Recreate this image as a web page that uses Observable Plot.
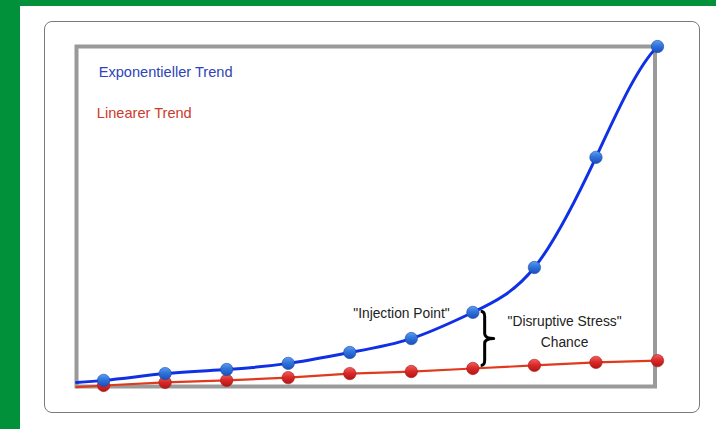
<!DOCTYPE html>
<html><head><meta charset="utf-8">
<script src="https://cdn.jsdelivr.net/npm/d3@7"></script>
<script src="https://cdn.jsdelivr.net/npm/@observablehq/plot@0.6"></script>
<style>
html,body{margin:0;padding:0;background:#fff;}
#wrap{position:relative;width:716px;height:429px;background:#00913a;overflow:hidden;}
#white{position:absolute;left:20px;top:6px;width:696px;height:423px;background:#fff;}
#panel{position:absolute;left:44px;top:21px;width:654px;height:390px;border:1.6px solid #7a7a7a;border-radius:8px;background:#fff;}
#chart{position:absolute;left:0;top:0;}
</style></head>
<body>
<div id="wrap"><div id="white"></div><div id="panel"></div><div id="chart"></div></div>
<script>
const steps = [0,1,2,3,4,5,6,7,8,9];
const expValues = [1.8, 3.8, 5.0, 6.8, 10.0, 14.1, 21.8, 35.0, 67.4, 100];
const linValues = [0.3, 1.2, 1.8, 2.6, 3.8, 4.4, 5.3, 6.2, 7.1, 7.6];
const lineStart = {x: -0.44, exp: 1.2, lin: -0.2};
const labels = [
  {x: -0.08, y: 92.4, text: "Exponentieller Trend", color: "#2e44b8"},
  {x: -0.11, y: 80.3, text: "Linearer Trend", color: "#cc3a2a"}
];
const notes = [
  {x: 4.84, y: 21.5, text: "\"Injection Point\""},
  {x: 7.49, y: 19.1, text: "\"Disruptive Stress\""},
  {x: 7.49, y: 12.9, text: "Chance"}
];
// brace between the exponential and linear value at step 6
const braceAt = {x: 6.2, top: 22.0, bottom: 6.0};

const expData = [{x: lineStart.x, y: lineStart.exp}, ...steps.map((s,i)=>({x:s, y:expValues[i]}))];
const linData = [{x: lineStart.x, y: lineStart.lin}, ...steps.map((s,i)=>({x:s, y:linValues[i]}))];
const expPts = steps.map((s,i)=>({x:s, y:expValues[i]}));
const linPts = steps.map((s,i)=>({x:s, y:linValues[i]}));

// C2 cubic spline through the points: natural start, eased (clamped) end
function curveSmooth(context) {
  const endFactor = 0.55;
  let xs, ys;
  return {
    areaStart() {}, areaEnd() {},
    lineStart() { xs = []; ys = []; },
    point(x, y) { xs.push(+x); ys.push(+y); },
    lineEnd() {
      const n = xs.length;
      if (!n) return;
      context.moveTo(xs[0], ys[0]);
      if (n === 1) return;
      if (n === 2) { context.lineTo(xs[1], ys[1]); return; }
      const h = [], s = [];
      for (let i = 0; i < n - 1; i++) { h.push(xs[i+1] - xs[i]); s.push((ys[i+1] - ys[i]) / h[i]); }
      const a = new Array(n).fill(0), b = new Array(n).fill(0), c = new Array(n).fill(0), r = new Array(n).fill(0);
      b[0] = 2; c[0] = 1; r[0] = 3 * s[0];
      for (let i = 1; i < n - 1; i++) {
        a[i] = h[i]; b[i] = 2 * (h[i-1] + h[i]); c[i] = h[i-1];
        r[i] = 3 * (h[i] * s[i-1] + h[i-1] * s[i]);
      }
      b[n-1] = 1; r[n-1] = endFactor * s[n-2];
      for (let i = 1; i < n; i++) {
        const w = a[i] / b[i-1];
        b[i] -= w * c[i-1]; r[i] -= w * r[i-1];
      }
      const t = new Array(n);
      t[n-1] = r[n-1] / b[n-1];
      for (let i = n - 2; i >= 0; i--) t[i] = (r[i] - c[i] * t[i+1]) / b[i];
      for (let i = 0; i < n - 1; i++) {
        const d = h[i];
        context.bezierCurveTo(xs[i] + d/3, ys[i] + t[i]*d/3, xs[i+1] - d/3, ys[i+1] - t[i+1]*d/3, xs[i+1], ys[i+1]);
      }
    }
  };
}

function gradients() {
  const svgNS = "http://www.w3.org/2000/svg";
  const defs = document.createElementNS(svgNS, "defs");
  defs.innerHTML = `
    <linearGradient id="gBlue" x1="0" y1="0" x2="0" y2="1">
      <stop offset="0" stop-color="#5c9cf0"/><stop offset="0.45" stop-color="#2f74dc"/><stop offset="1" stop-color="#1a4eb8"/>
    </linearGradient>
    <linearGradient id="gRed" x1="0" y1="0" x2="0" y2="1">
      <stop offset="0" stop-color="#f06060"/><stop offset="0.45" stop-color="#dc2a2a"/><stop offset="1" stop-color="#b01414"/>
    </linearGradient>`;
  return defs;
}

function braceMark(index, scales) {
  const svgNS = "http://www.w3.org/2000/svg";
  const x = scales.x(braceAt.x), t = scales.y(braceAt.top), b = scales.y(braceAt.bottom);
  const m = (t + b) / 2, x0 = x - 4, xt = x + 9, r = 5;
  const p = document.createElementNS(svgNS, "path");
  p.setAttribute("d",
    `M${x0},${t} Q${x},${t} ${x},${t + r} L${x},${m - r} Q${x},${m} ${xt},${m}` +
    ` Q${x},${m} ${x},${m + r} L${x},${b - r} Q${x},${b} ${x0},${b}`);
  p.setAttribute("fill", "none");
  p.setAttribute("stroke", "#000");
  p.setAttribute("stroke-width", "3");
  p.setAttribute("stroke-linejoin", "round");
  return p;
}

const chart = Plot.plot({
  width: 716, height: 429,
  marginLeft: 76, marginRight: 59, marginTop: 46, marginBottom: 43,
  style: {background: "transparent", fontFamily: "Arial, 'Liberation Sans', sans-serif"},
  x: {domain: [-0.44, 9], axis: null},
  y: {domain: [0, 100], axis: null},
  marks: [
    gradients,
    Plot.frame({stroke: "#9a9a9a", strokeWidth: 4, insetRight: 2.5}),
    Plot.line(linData, {x: "x", y: "y", stroke: "#e03a1e", strokeWidth: 2.2}),
    Plot.line(expData, {x: "x", y: "y", stroke: "#1030e6", strokeWidth: 3, curve: curveSmooth}),
    braceMark,
    Plot.dot(linPts, {x: "x", y: "y", r: 6.2, fill: "url(#gRed)", stroke: "#a81414", strokeWidth: 0.6}),
    Plot.dot(expPts, {x: "x", y: "y", r: 6.2, fill: "url(#gBlue)", stroke: "#1a4aa8", strokeWidth: 0.6}),
    Plot.text(labels, {x: "x", y: "y", text: "text", fill: "color", textAnchor: "start", fontSize: 14.6}),
    Plot.text(notes, {x: "x", y: "y", text: "text", fill: "#222", fontSize: 13.8})
  ]
});
document.getElementById("chart").appendChild(chart);
</script>
</body></html>
